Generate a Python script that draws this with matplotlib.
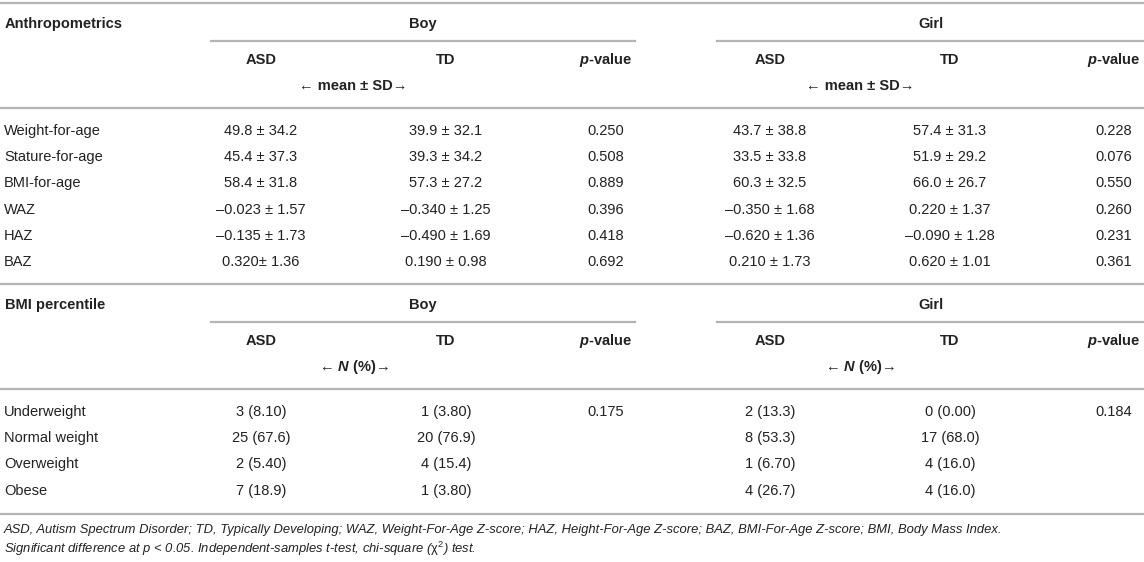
import matplotlib.pyplot as plt
from matplotlib.lines import Line2D

plt.rcParams['font.family'] = ['Liberation Sans', 'DejaVu Sans']
plt.rcParams['mathtext.fontset'] = 'custom'
plt.rcParams['mathtext.rm'] = 'Liberation Sans'
plt.rcParams['mathtext.it'] = 'Liberation Sans:italic'
plt.rcParams['mathtext.bf'] = 'Liberation Sans:bold'
plt.rcParams['mathtext.bfit'] = 'Liberation Sans:italic:bold'

# anthropometrics (mean ± SD)
anthro_rows = ["Weight-for-age", "Stature-for-age", "BMI-for-age", "WAZ", "HAZ", "BAZ"]
boy_asd = ["49.8 ± 34.2", "45.4 ± 37.3", "58.4 ± 31.8", "–0.023 ± 1.57", "–0.135 ± 1.73", "0.320± 1.36"]
boy_td = ["39.9 ± 32.1", "39.3 ± 34.2", "57.3 ± 27.2", "–0.340 ± 1.25", "–0.490 ± 1.69", "0.190 ± 0.98"]
boy_p = ["0.250", "0.508", "0.889", "0.396", "0.418", "0.692"]
girl_asd = ["43.7 ± 38.8", "33.5 ± 33.8", "60.3 ± 32.5", "–0.350 ± 1.68", "–0.620 ± 1.36", "0.210 ± 1.73"]
girl_td = ["57.4 ± 31.3", "51.9 ± 29.2", "66.0 ± 26.7", "0.220 ± 1.37", "–0.090 ± 1.28", "0.620 ± 1.01"]
girl_p = ["0.228", "0.076", "0.550", "0.260", "0.231", "0.361"]

# BMI percentile, N (%)
bmi_rows = ["Underweight", "Normal weight", "Overweight", "Obese"]
bmi_boy_asd = ["3 (8.10)", "25 (67.6)", "2 (5.40)", "7 (18.9)"]
bmi_boy_td = ["1 (3.80)", "20 (76.9)", "4 (15.4)", "1 (3.80)"]
bmi_boy_p = ["0.175", "", "", ""]
bmi_girl_asd = ["2 (13.3)", "8 (53.3)", "1 (6.70)", "4 (26.7)"]
bmi_girl_td = ["0 (0.00)", "17 (68.0)", "4 (16.0)", "4 (16.0)"]
bmi_girl_p = ["0.184", "", "", ""]

footnote1 = ("ASD, Autism Spectrum Disorder; TD, Typically Developing; WAZ, Weight-For-Age Z-score; "
             "HAZ, Height-For-Age Z-score; BAZ, BMI-For-Age Z-score; BMI, Body Mass Index.")
footnote2 = r"Significant difference at p < 0.05. Independent-samples t-test, chi-square ($\mathrm{\chi}^{2}$) test."

W, H = 1144, 562
fig = plt.figure(figsize=(W / 100, H / 100), dpi=100)
ax = fig.add_axes([0, 0, 1, 1])
ax.set_xlim(0, W)
ax.set_ylim(H, 0)
ax.axis('off')

txt = '#222222'
line_c = '#b4b4b4'
fs = 10.5

cols = [261, 446, 606, 770, 950, 1114]
boy_span = (211, 635)
girl_span = (717, 1144)


def hline(y, x0=0, x1=W):
    ax.add_line(Line2D([x0, x1], [y, y], color=line_c, lw=1.6))


def section(top, title, arrow, rows, data):
    hline(top)
    ax.text(5, top + 21, title, fontsize=fs, fontweight='bold', color=txt, va='center')
    ax.text(sum(boy_span) / 2, top + 21, "Boy", fontsize=fs, fontweight='bold', color=txt,
            ha='center', va='center')
    ax.text(sum(girl_span) / 2, top + 21, "Girl", fontsize=fs, fontweight='bold', color=txt,
            ha='center', va='center')
    hline(top + 38, *boy_span)
    hline(top + 38, *girl_span)
    heads = ["ASD", "TD", r"$\mathbfit{p}$-value"] * 2
    for x, h in zip(cols, heads):
        ax.text(x, top + 57, h, fontsize=fs, fontweight='bold', color=txt, ha='center', va='center')
    ax.text((cols[0] + cols[1]) / 2, top + 83, arrow, fontsize=fs, fontweight='bold', color=txt,
            ha='center', va='center')
    ax.text((cols[3] + cols[4]) / 2, top + 83, arrow, fontsize=fs, fontweight='bold', color=txt,
            ha='center', va='center')
    hline(top + 105)
    for i, lab in enumerate(rows):
        y = top + 128 + i * 26.2
        ax.text(4, y, lab, fontsize=fs, color=txt, va='center')
        for x, col in zip(cols, data):
            ax.text(x, y, col[i], fontsize=fs, color=txt, ha='center', va='center')


section(3, "Anthropometrics", "← mean ± SD→", anthro_rows,
        [boy_asd, boy_td, boy_p, girl_asd, girl_td, girl_p])
section(284, "BMI percentile", r"← $\mathbfit{N}$ (%)→", bmi_rows,
        [bmi_boy_asd, bmi_boy_td, bmi_boy_p, bmi_girl_asd, bmi_girl_td, bmi_girl_p])
hline(514)

ax.text(4, 530, footnote1, fontsize=9.4, style='italic', color=txt, va='center')
ax.text(4, 549, footnote2, fontsize=9.4, style='italic', color=txt, va='center')

fig.savefig("out.png", dpi=100, facecolor='white')
